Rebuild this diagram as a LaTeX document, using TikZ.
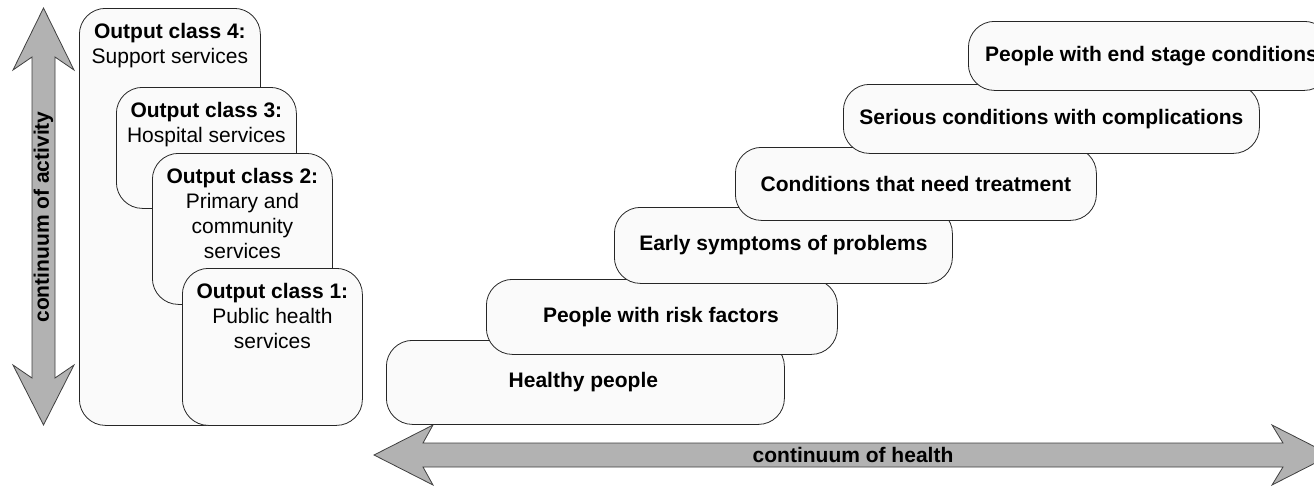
\documentclass[tikz,border=0pt]{standalone}
\usepackage{fontspec}
\setmainfont{Liberation Sans}
\begin{document}
\begin{tikzpicture}[x=1pt,y=-1pt,
  sbox/.style={draw=black!85,line width=0.8pt,fill=black!2,rounded corners=26pt,
    inner sep=0pt,anchor=north west},
  ltext/.style={anchor=north,align=center,inner sep=0pt,font=\fontsize{21}{25}\selectfont},
  rtext/.style={inner sep=0pt,font=\fontsize{21}{25}\selectfont\bfseries},
  barrow/.style={draw=black!75,line width=0.8pt,fill=black!30},
  atext/.style={inner sep=0pt,font=\fontsize{21}{25}\selectfont\bfseries}]
\useasboundingbox (0,0) rectangle (1314,485);

% vertical arrow
\draw[barrow] (43.5,8) -- (74,70) -- (55,57) -- (55,378) -- (74,365) -- (43.5,425)
  -- (13,365) -- (32,378) -- (32,57) -- (13,70) -- cycle;
\node[atext,rotate=90] (act) at (43.5,217) {continuum of activity};

% horizontal arrow
\draw[barrow] (374,455) -- (433,425) -- (423,443) -- (1283,443) -- (1272,425) -- (1331,455)
  -- (1272,485) -- (1283,467) -- (423,467) -- (433,485) -- cycle;
\node[atext] (hea) at (853,455) {continuum of health};

% left boxes
\node[sbox,minimum width=181pt,minimum height=417pt] (b4) at (79,8) {};
\node[ltext] (t4) at ([yshift=-15pt]b4.north) {\textbf{Output class 4:}\\Support services};
\node[sbox,minimum width=180pt,minimum height=121pt] (b3) at (116,87) {};
\node[ltext] (t3) at ([yshift=-15pt]b3.north) {\textbf{Output class 3:}\\Hospital services};
\node[sbox,minimum width=180pt,minimum height=151pt] (b2) at (152,153) {};
\node[ltext] (t2) at ([yshift=-15pt]b2.north) {\textbf{Output class 2:}\\Primary and\\community\\services};
\node[sbox,minimum width=180pt,minimum height=157pt] (b1) at (182,268) {};
\node[ltext] (t1) at ([yshift=-15pt]b1.north) {\textbf{Output class 1:}\\Public health\\services};

% right boxes
\node[sbox,minimum width=398pt,minimum height=84pt] (r1) at (386,340) {};
\node[rtext] (s1) at ([xshift=-2pt]r1.center) {Healthy people};
\node[sbox,minimum width=351pt,minimum height=75pt] (r2) at (486,279) {};
\node[rtext] (s2) at ([xshift=-1pt]r2.center) {People with risk factors};
\node[sbox,minimum width=338pt,minimum height=76pt] (r3) at (614,207) {};
\node[rtext] (s3) at (r3.center) {Early symptoms of problems};
\node[sbox,minimum width=361pt,minimum height=73pt] (r4) at (735,147) {};
\node[rtext] (s4) at (r4.center) {Conditions that need treatment};
\node[sbox,minimum width=416pt,minimum height=69pt] (r5) at (843,84) {};
\node[rtext] (s5) at (r5.center) {Serious conditions with complications};
\node[sbox,minimum width=362pt,minimum height=69pt] (r6) at (968,21) {};
\node[rtext,anchor=west] (s6) at ([xshift=17pt]r6.west) {People with end stage conditions};
\end{tikzpicture}
\end{document}
